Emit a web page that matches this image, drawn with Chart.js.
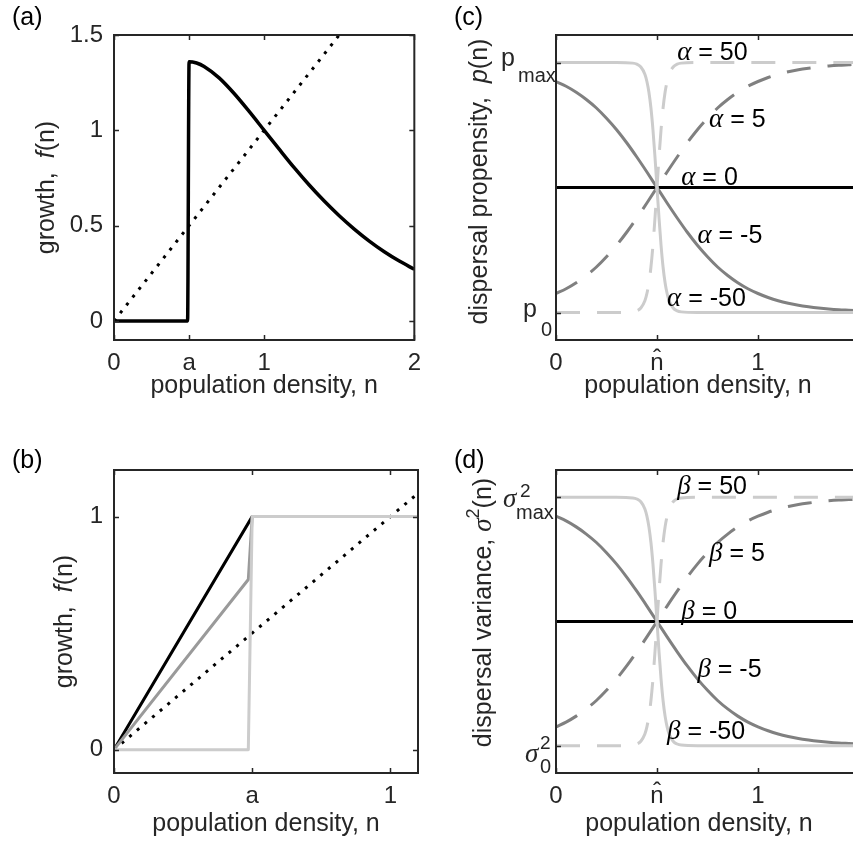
<!DOCTYPE html>
<html lang="en">
<head>
<meta charset="UTF-8" />
<title>Growth and density-dependent dispersal</title>
<style>
  html, body { margin: 0; padding: 0; background: #fff; }
  body { width: 853px; height: 841px; overflow: hidden; position: relative; }
  canvas { position: absolute; }
</style>
</head>
<body>
<canvas id="chartA"></canvas>
<canvas id="chartB"></canvas>
<canvas id="chartC"></canvas>
<canvas id="chartD"></canvas>

<script src="https://cdn.jsdelivr.net/npm/chart.js"></script>
<script>
// ---------- values ----------

// (a) growth with a jump at n = a
const nA = [0, 0.49, 0.5, 0.55, 0.6, 0.7, 0.8, 0.9, 1.0, 1.1, 1.2, 1.3, 1.4, 1.5, 1.6, 1.7, 1.8, 1.9, 2.0];
const fA = [0, 0, 1.36, 1.353, 1.335, 1.275, 1.193, 1.099, 1.0, 0.901, 0.804, 0.713, 0.629, 0.552, 0.482, 0.419, 0.363, 0.314, 0.271];
const nDiagA = [0, 1.5];
const fDiagA = [0, 1.5];
const xTicksA = [0, 0.5, 1, 2];
const xLabelsA = ['0', 'a', '1', '2'];
const yTicksA = [0, 0.5, 1, 1.5];
const yLabelsA = ['0', '0.5', '1', '1.5'];

// (b) three growth curves
const nBlackB = [0, 0.5, 1.1];
const fBlackB = [0, 1, 1];
const nGrayB = [0, 0.486, 0.5, 1.1];
const fGrayB = [0, 0.73, 1, 1];
const nLightB = [0, 0.486, 0.5, 1.1];
const fLightB = [0, 0, 1, 1];
const nDiagB = [0, 1.1];
const fDiagB = [0, 1.1];
const xTicksB = [0, 0.5, 1];
const xLabelsB = ['0', 'a', '1'];
const yTicksB = [0, 1];
const yLabelsB = ['0', '1'];

// (c) and (d): same family of curves, 0 = lower level, 1 = upper level
const nSoft = [0, 0.05, 0.1, 0.15, 0.2, 0.25, 0.3, 0.35, 0.4, 0.45, 0.5, 0.55, 0.6, 0.65, 0.7, 0.75,
               0.8, 0.85, 0.9, 0.95, 1.0, 1.05, 1.1, 1.15, 1.2, 1.25, 1.3, 1.35, 1.4, 1.45, 1.5];
const riseSoft = [0.076, 0.095, 0.119, 0.148, 0.182, 0.223, 0.269, 0.321, 0.378, 0.438, 0.5, 0.562, 0.622, 0.679, 0.731, 0.777,
                  0.818, 0.852, 0.881, 0.905, 0.924, 0.940, 0.953, 0.963, 0.971, 0.977, 0.982, 0.986, 0.989, 0.991, 0.993];
const fallSoft = [0.924, 0.905, 0.881, 0.852, 0.818, 0.777, 0.731, 0.679, 0.622, 0.562, 0.5, 0.438, 0.378, 0.321, 0.269, 0.223,
                  0.182, 0.148, 0.119, 0.095, 0.076, 0.060, 0.047, 0.037, 0.029, 0.023, 0.018, 0.014, 0.011, 0.009, 0.007];
const nSteep = [0, 0.3, 0.38, 0.4, 0.42, 0.44, 0.45, 0.46, 0.47, 0.48, 0.49, 0.5, 0.51,
                0.52, 0.53, 0.54, 0.55, 0.56, 0.58, 0.6, 0.62, 0.7, 1.5];
const riseSteep = [0, 0, 0.0025, 0.0067, 0.018, 0.047, 0.076, 0.119, 0.182, 0.269, 0.378, 0.5, 0.622,
                   0.731, 0.818, 0.881, 0.924, 0.953, 0.982, 0.9933, 0.9975, 1, 1];
const fallSteep = [1, 1, 0.9975, 0.9933, 0.982, 0.953, 0.924, 0.881, 0.818, 0.731, 0.622, 0.5, 0.378,
                   0.269, 0.182, 0.119, 0.076, 0.047, 0.018, 0.0067, 0.0025, 0, 0];
const nFlat = [0, 1.5];
const midFlat = [0.5, 0.5];
const xTicksCD = [0, 0.5, 1, 1.5];
const xLabelsCD = ['0', 'n\u0302', '1', ''];
const yTicksCD = [0, 1];
const alphaLabels = ['\u03b1', ' = 50', ' = 5', ' = 0', ' = -5', ' = -50'];
const betaLabels = ['\u03b2', ' = 50', ' = 5', ' = 0', ' = -5', ' = -50'];
// where the curve labels sit (n, level) - left/baseline of text
const labelN = [0.6, 0.758, 0.62, 0.7, 0.55];
const labelP = [1.012, 0.743, 0.51, 0.277, 0.028];

// ---------- styling ----------
const SANS = '"Liberation Sans", Arial, Helvetica, sans-serif';
const SERIF = '"Liberation Serif", "Times New Roman", serif';
const FS = 23;   // tick labels
const TS = 25;   // titles and curve labels
const AXIS = '#262626';
const BLACK = '#000000';
const DARK = '#808080';
const MID = '#9a9a9a';
const LIGHT = '#cccccc';

const sansF = (size, style) => (style ? style + ' ' : '') + size + 'px ' + SANS;
const serifF = (size) => 'italic ' + size + 'px ' + SERIF;

function pts(xs, ys) {
  return xs.map((x, i) => ({ x: x, y: ys[i] }));
}

function curve(xs, ys, color, width, dash, order, smooth) {
  return {
    data: pts(xs, ys),
    borderColor: color,
    borderWidth: width,
    borderDash: dash || [],
    borderCapStyle: 'butt',
    borderJoinStyle: 'round',
    pointRadius: 0,
    fill: false,
    order: order,
    tension: 0,
    cubicInterpolationMode: smooth ? 'monotone' : 'default'
  };
}

function drawRich(ctx, parts, x, y, align) {
  let total = 0;
  parts.forEach(p => { ctx.font = p.f; total += ctx.measureText(p.t).width + (p.dx || 0); });
  let cx = x;
  if (align === 'center') cx = x - total / 2;
  if (align === 'right') cx = x - total;
  ctx.textAlign = 'left';
  parts.forEach(p => {
    ctx.font = p.f;
    ctx.fillText(p.t, cx, y + (p.dy || 0));
    cx += ctx.measureText(p.t).width + (p.dx || 0);
  });
}

// box with inward tick marks on all four sides
const framePlugin = {
  id: 'frame',
  afterDatasetsDraw(chart, args, opts) {
    const { ctx, chartArea: a, scales } = chart;
    const xs = scales.x, ys = scales.y;
    ctx.save();
    ctx.strokeStyle = AXIS;
    ctx.lineWidth = 1.5;
    ctx.beginPath();
    (opts.xTicks || []).forEach(v => {
      const px = Math.round(xs.getPixelForValue(v)) + 0.5;
      ctx.moveTo(px, a.bottom); ctx.lineTo(px, a.bottom - 5);
      ctx.moveTo(px, a.top); ctx.lineTo(px, a.top + 5);
    });
    (opts.yTicks || []).forEach(v => {
      const py = Math.round(ys.getPixelForValue(v)) + 0.5;
      ctx.moveTo(a.left, py); ctx.lineTo(a.left + 5, py);
      ctx.moveTo(a.right, py); ctx.lineTo(a.right - 5, py);
    });
    ctx.stroke();
    ctx.lineWidth = 2;
    ctx.strokeRect(a.left, a.top, a.right - a.left, a.bottom - a.top);
    ctx.restore();
  }
};

function makeChart(id, box, sc, datasets, decor) {
  const cv = document.getElementById(id);
  cv.width = box.w;
  cv.height = box.h;
  cv.style.left = box.left + 'px';
  cv.style.top = box.top + 'px';
  cv.style.width = box.w + 'px';
  cv.style.height = box.h + 'px';
  return new Chart(cv, {
    type: 'line',
    data: { datasets: datasets },
    options: {
      responsive: false,
      animation: false,
      devicePixelRatio: 1,
      layout: { padding: { top: box.padTop, right: box.padRight, left: 0, bottom: 0 } },
      plugins: {
        legend: { display: false },
        tooltip: { enabled: false },
        frame: { xTicks: sc.xTicks, yTicks: sc.yTicks }
      },
      scales: {
        x: {
          type: 'linear', min: sc.xMin, max: sc.xMax,
          grid: { display: false, drawTicks: false },
          border: { display: false },
          ticks: {
            font: { family: SANS, size: 24 }, color: AXIS, padding: 9,
            maxRotation: 0, autoSkip: false,
            callback: (v, i) => sc.xLabels[i]
          },
          afterBuildTicks: s => { s.ticks = sc.xTicks.map(v => ({ value: v })); },
          afterFit: s => { s.height = box.xH; }
        },
        y: {
          type: 'linear', min: sc.yMin, max: sc.yMax,
          grid: { display: false, drawTicks: false },
          border: { display: false },
          ticks: {
            display: !!sc.yLabels,
            font: { family: SANS, size: 24 }, color: AXIS, padding: 11,
            autoSkip: false,
            callback: (v, i) => (sc.yLabels ? sc.yLabels[i] : '')
          },
          afterBuildTicks: s => { s.ticks = sc.yTicks.map(v => ({ value: v })); },
          afterFit: s => { s.width = box.yW; }
        }
      }
    },
    plugins: [framePlugin, { id: 'decor' + id, afterDraw: c => decor(c) }]
  });
}

// shared text drawing for a panel
function panelText(chart, p) {
  const ctx = chart.ctx;
  const a = chart.chartArea;
  ctx.save();
  ctx.fillStyle = '#000';
  ctx.textBaseline = 'middle';
  ctx.font = sansF(TS);
  ctx.textAlign = 'left';
  ctx.fillText(p.letter, p.letterX, p.letterY);

  // x title
  ctx.fillStyle = AXIS;
  ctx.textBaseline = 'alphabetic';
  ctx.font = sansF(TS);
  ctx.textAlign = 'center';
  ctx.fillText('population density, n', p.xTitleX != null ? p.xTitleX : (a.left + a.right) / 2, p.xTitleY);

  // y title, rotated
  ctx.save();
  ctx.translate(p.yTitleX, (a.top + a.bottom) / 2 + (p.yTitleDy || 0));
  ctx.rotate(-Math.PI / 2);
  ctx.textBaseline = 'middle';
  drawRich(ctx, p.yTitle, 0, 0, 'center');
  ctx.restore();
  ctx.restore();
}

function curveLabels(chart, names) {
  const ctx = chart.ctx;
  const xs = chart.scales.x, ys = chart.scales.y;
  ctx.save();
  ctx.fillStyle = '#000';
  ctx.textBaseline = 'alphabetic';
  for (let i = 0; i < labelN.length; i++) {
    drawRich(ctx, [
      { t: names[0], f: serifF(27) },
      { t: names[i + 1], f: sansF(TS) }
    ], xs.getPixelForValue(labelN[i]), ys.getPixelForValue(labelP[i]), 'left');
  }
  ctx.restore();
}

// ---------- panel (a) ----------
makeChart('chartA',
  { left: 0, top: 0, w: 430, h: 420, yW: 114, padTop: 35, padRight: 12, xH: 80 },
  { xMin: 0, xMax: 2, yMin: -0.1, yMax: 1.5, xTicks: xTicksA, xLabels: xLabelsA, yTicks: yTicksA, yLabels: yLabelsA },
  [
    curve(nA, fA, BLACK, 3.5, null, 0, true),
    curve(nDiagA, fDiagA, BLACK, 3, [3, 7], 1, false)
  ],
  c => panelText(c, {
    letter: '(a)', letterX: 12, letterY: 18, xTitleY: 393, yTitleX: 47,
    yTitle: [{ t: 'growth,  ', f: sansF(TS) }, { t: 'f', f: sansF(TS, 'italic') }, { t: '(n)', f: sansF(TS) }]
  })
);

// ---------- panel (b) ----------
makeChart('chartB',
  { left: 0, top: 420, w: 430, h: 421, yW: 114, padTop: 50, padRight: 12, xH: 68 },
  { xMin: 0, xMax: 1.1, yMin: -0.1, yMax: 1.2, xTicks: xTicksB, xLabels: xLabelsB, yTicks: yTicksB, yLabels: yLabelsB },
  [
    curve(nLightB, fLightB, LIGHT, 3, null, 0, false),
    curve(nGrayB, fGrayB, MID, 3, null, 1, false),
    curve(nBlackB, fBlackB, BLACK, 3, null, 2, false),
    curve(nDiagB, fDiagB, BLACK, 3, [3, 7], 3, false)
  ],
  c => panelText(c, {
    letter: '(b)', letterX: 12, letterY: 41, xTitleY: 411, yTitleX: 65,
    yTitle: [{ t: 'growth,  ', f: sansF(TS) }, { t: 'f', f: sansF(TS, 'italic') }, { t: '(n)', f: sansF(TS) }]
  })
);

// ---------- panel (c) ----------
const cdDatasets = () => [
  curve(nSteep, fallSteep, LIGHT, 3, null, 1, true),
  curve(nSteep, riseSteep, LIGHT, 3, [24, 17], 0, true),
  curve(nSoft, fallSoft, DARK, 3, null, 2, true),
  curve(nSoft, riseSoft, DARK, 3, [24, 17], 3, true),
  curve(nFlat, midFlat, BLACK, 3, null, 4, false)
];

makeChart('chartC',
  { left: 430, top: 0, w: 440, h: 420, yW: 126, padTop: 35, padRight: 11, xH: 80 },
  { xMin: 0, xMax: 1.5, yMin: -0.11, yMax: 1.11, xTicks: xTicksCD, xLabels: xLabelsCD, yTicks: yTicksCD, yLabels: null },
  cdDatasets(),
  c => {
    panelText(c, {
      letter: '(c)', letterX: 24, letterY: 18, xTitleX: 268, xTitleY: 393, yTitleX: 50, yTitleDy: -6,
      yTitle: [{ t: 'dispersal propensity,  ', f: sansF(TS) }, { t: 'p', f: sansF(TS, 'italic') }, { t: '(n)', f: sansF(TS) }]
    });
    const ctx = c.ctx, L = c.chartArea.left, ys = c.scales.y;
    ctx.save();
    ctx.fillStyle = AXIS;
    ctx.textBaseline = 'alphabetic';
    ctx.textAlign = 'left';
    const top = ys.getPixelForValue(1), bot = ys.getPixelForValue(0);
    ctx.font = sansF(TS); ctx.fillText('p', L - 55, top + 3);
    ctx.font = sansF(20); ctx.fillText('max', L - 38, top + 19);
    ctx.font = sansF(TS); ctx.fillText('p', L - 33, bot + 4);
    ctx.font = sansF(20); ctx.fillText('0', L - 15, bot + 23);
    ctx.restore();
    curveLabels(c, alphaLabels);
  }
);

// ---------- panel (d) ----------
makeChart('chartD',
  { left: 430, top: 420, w: 440, h: 421, yW: 126, padTop: 50, padRight: 11, xH: 68 },
  { xMin: 0, xMax: 1.5, yMin: -0.11, yMax: 1.11, xTicks: xTicksCD, xLabels: xLabelsCD, yTicks: yTicksCD, yLabels: null },
  cdDatasets(),
  c => {
    panelText(c, {
      letter: '(d)', letterX: 24, letterY: 41, xTitleX: 269, xTitleY: 411, yTitleX: 54, yTitleDy: -9,
      yTitle: [
        { t: 'dispersal variance, ', f: sansF(TS) },
        { t: '\u03c3', f: serifF(27) },
        { t: '2', f: sansF(18), dy: -10 },
        { t: '(n)', f: sansF(TS) }
      ]
    });
    const ctx = c.ctx, L = c.chartArea.left, ys = c.scales.y;
    ctx.save();
    ctx.fillStyle = AXIS;
    ctx.textBaseline = 'alphabetic';
    ctx.textAlign = 'left';
    const top = ys.getPixelForValue(1), bot = ys.getPixelForValue(0);
    ctx.font = serifF(27); ctx.fillText('\u03c3', L - 53, top + 10);
    ctx.font = sansF(19); ctx.fillText('2', L - 36, top);
    ctx.font = sansF(20); ctx.fillText('max', L - 40, top + 22);
    ctx.font = serifF(27); ctx.fillText('\u03c3', L - 31, bot + 16);
    ctx.font = sansF(19); ctx.fillText('2', L - 16, bot + 3);
    ctx.font = sansF(20); ctx.fillText('0', L - 16, bot + 27);
    ctx.restore();
    curveLabels(c, betaLabels);
  }
);
</script>
</body>
</html>
